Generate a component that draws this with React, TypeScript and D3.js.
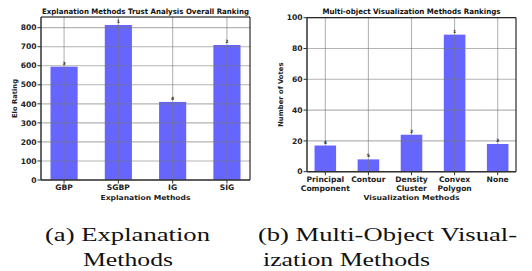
import * as d3 from "d3";

// left panel data
const methodNames = [["GBP"], ["SGBP"], ["IG"], ["SIG"]];
const eloRatings = [595, 814, 410, 709];
const eloRanks = ["3", "1", "4", "2"];
const eloTicks = [0, 100, 200, 300, 400, 500, 600, 700, 800];

// right panel data
const visNames = [
  ["Principal", "Component"],
  ["Contour"],
  ["Density", "Cluster"],
  ["Convex", "Polygon"],
  ["None"],
];
const voteCounts = [17, 8, 24, 89, 18];
const voteRanks = ["4", "5", "2", "1", "3"];
const voteTicks = [0, 20, 40, 60, 80, 100];

const SANS = "'DejaVu Sans', sans-serif";
const SERIF = "'Liberation Serif', serif";
const BAR = "#6666ff";

type PanelProps = {
  left: number;
  right: number;
  top: number;
  bottom: number;
  names: string[][];
  values: number[];
  ranks: string[];
  ticks: number[];
  yMax: number;
  title: string;
  titleLen: number;
  yLabel: string;
  xLabel: string;
  xLabelLen: number;
};

function Panel(p: PanelProps) {
  const n = p.values.length;
  const x = d3.scaleLinear().domain([-0.425, n - 1 + 0.425]).range([p.left, p.right]);
  const y = d3.scaleLinear().domain([0, p.yMax]).range([p.bottom, p.top]);
  const bw = x(0.5) - x(0);
  const cx = (p.left + p.right) / 2;
  const cy = (p.top + p.bottom) / 2;

  return (
    <g>
      {p.values.map((v, i) => (
        <rect key={"b" + i} x={x(i) - bw / 2} y={y(v)} width={bw} height={y(0) - y(v)} fill={BAR} />
      ))}
      {/* grid drawn over the bars */}
      {p.ticks.map((t) => (
        <line key={"h" + t} x1={p.left} x2={p.right} y1={y(t)} y2={y(t)} stroke="#777" strokeOpacity={0.55} strokeWidth={1.1} />
      ))}
      {p.values.map((_, i) => (
        <line key={"v" + i} x1={x(i)} x2={x(i)} y1={p.top} y2={p.bottom} stroke="#777" strokeOpacity={0.55} strokeWidth={1.1} />
      ))}
      {p.values.map((v, i) => (
        <text key={"r" + i} x={x(i)} y={y(v) - 2} fontSize={4.5} fontWeight="bold" textAnchor="middle" fill="#222">
          {p.ranks[i]}
        </text>
      ))}
      {/* frame */}
      <line x1={p.left} x2={p.right} y1={p.top} y2={p.top} stroke="#000" strokeWidth={1} />
      <line x1={p.right} x2={p.right} y1={p.top} y2={p.bottom} stroke="#000" strokeWidth={1} />
      <line x1={p.left} x2={p.left} y1={p.top} y2={p.bottom} stroke="#333" strokeWidth={1.5} />
      <line x1={p.left} x2={p.right} y1={p.bottom} y2={p.bottom} stroke="#333" strokeWidth={1.5} />
      {/* y ticks */}
      {p.ticks.map((t) => (
        <g key={"yt" + t}>
          <line x1={p.left - 3.5} x2={p.left} y1={y(t)} y2={y(t)} stroke="#333" strokeWidth={1} />
          <text x={p.left - 4.5} y={y(t) + 2.7} fontSize={7.6} fontWeight="bold" textAnchor="end" fill="#222">
            {t}
          </text>
        </g>
      ))}
      {/* x ticks */}
      {p.names.map((lines, i) => (
        <g key={"xt" + i}>
          <line x1={x(i)} x2={x(i)} y1={p.bottom} y2={p.bottom + 3.5} stroke="#333" strokeWidth={1} />
          {lines.map((s, j) => (
            <text key={j} x={x(i)} y={p.bottom + 10 + j * 9.3} fontSize={7.6} fontWeight="bold" textAnchor="middle" fill="#222">
              {s}
            </text>
          ))}
        </g>
      ))}
      <text x={cx} y={13.5} fontSize={7.4} fontWeight="bold" textAnchor="middle" fill="#111" textLength={p.titleLen} lengthAdjust="spacingAndGlyphs">
        {p.title}
      </text>
      <text x={0} y={0} transform={`translate(${p.left - 24},${cy}) rotate(-90)`} fontSize={6.8} fontWeight="bold" textAnchor="middle" fill="#222">
        {p.yLabel}
      </text>
      <text x={cx} y={200} fontSize={6.8} fontWeight="bold" textAnchor="middle" fill="#222" textLength={p.xLabelLen} lengthAdjust="spacingAndGlyphs">
        {p.xLabel}
      </text>
    </g>
  );
}

export default function App() {
  return (
    <svg width={532} height={271} style={{ position: "absolute", left: 0, top: 0, background: "#fff" }} fontFamily={SANS}>
      <rect width={532} height={271} fill="#fff" />
      <Panel
        left={41}
        right={250}
        top={17}
        bottom={180}
        names={methodNames}
        values={eloRatings}
        ranks={eloRanks}
        ticks={eloTicks}
        yMax={856}
        title="Explanation Methods Trust Analysis Overall Ranking"
        titleLen={207}
        yLabel="Elo Rating"
        xLabel="Explanation Methods"
        xLabelLen={90}
      />
      <Panel
        left={307}
        right={516}
        top={17.7}
        bottom={171.7}
        names={visNames}
        values={voteCounts}
        ranks={voteRanks}
        ticks={voteTicks}
        yMax={100}
        title="Multi-object Visualization Methods Rankings"
        titleLen={178}
        yLabel="Number of Votes"
        xLabel="Visualization Methods"
        xLabelLen={96}
      />
      <g fontFamily={SERIF} fontSize={18.5} fill="#111">
        <text x={45} y={241} textLength={165} lengthAdjust="spacingAndGlyphs">(a) Explanation</text>
        <text x={83} y={266} textLength={90} lengthAdjust="spacingAndGlyphs">Methods</text>
        <text x={258} y={241} textLength={259} lengthAdjust="spacingAndGlyphs">(b) Multi-Object Visual-</text>
        <text x={263} y={266} textLength={167} lengthAdjust="spacingAndGlyphs">ization Methods</text>
      </g>
    </svg>
  );
}
